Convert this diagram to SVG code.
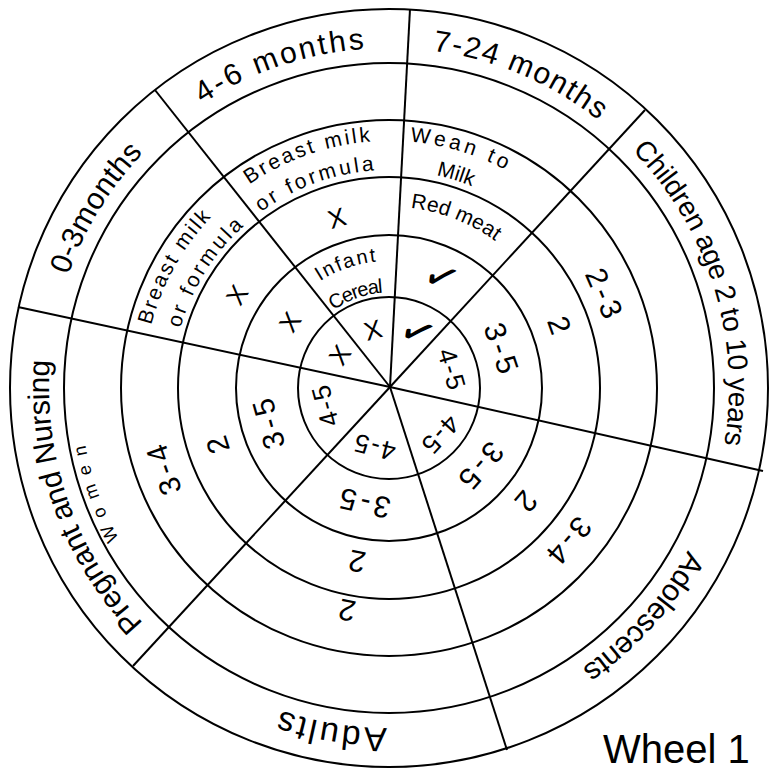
<svg xmlns="http://www.w3.org/2000/svg" width="770" height="773" viewBox="0 0 770 773">
<style>
.ln{fill:none;stroke:#000;stroke-width:2}
text{font-family:"Liberation Sans",Arial,sans-serif;fill:#000}
.lab{font-size:30px;text-anchor:middle}
.food{font-size:21px;text-anchor:middle}
.mk{font-size:26px;text-anchor:middle;dominant-baseline:central}
.ck{font-family:"DejaVu Sans",sans-serif;font-size:42px;text-anchor:middle;dominant-baseline:central}
.n3{font-size:30px;text-anchor:middle;dominant-baseline:central;letter-spacing:4px}
.n6{font-size:26px;text-anchor:middle;dominant-baseline:central;letter-spacing:2px}
.title{font-size:40px}
</style>
<defs>
<path id="r340" d="M708.50,504.29 A340,340 0 1 1 69.50,271.71 A340,340 0 1 1 708.50,504.29"/>
<path id="r308" d="M678.42,493.34 A308,308 0 1 1 99.58,282.66 A308,308 0 1 1 678.42,493.34"/>
<path id="r246" d="M620.16,472.14 A246,246 0 1 1 157.84,303.86 A246,246 0 1 1 620.16,472.14"/>
<path id="r217" d="M592.91,462.22 A217,217 0 1 1 185.09,313.78 A217,217 0 1 1 592.91,462.22"/>
<path id="r180" d="M558.14,449.56 A180,180 0 1 1 219.86,326.44 A180,180 0 1 1 558.14,449.56"/>
<path id="r127" d="M508.34,431.44 A127,127 0 1 1 269.66,344.56 A127,127 0 1 1 508.34,431.44"/>
<path id="r95" d="M478.27,420.49 A95,95 0 1 1 299.73,355.51 A95,95 0 1 1 478.27,420.49"/>
</defs>
<rect width="770" height="773" fill="#fff"/>

<g id="connectors">
<circle class="ln" cx="389" cy="388" r="379"/>
<circle class="ln" cx="389" cy="388" r="325"/>
<circle class="ln" cx="389" cy="388" r="268"/>
<circle class="ln" cx="389" cy="388" r="211"/>
<circle class="ln" cx="389" cy="388" r="153"/>
<circle class="ln" cx="389" cy="388" r="91"/>
<line class="ln" x1="390" y1="387" x2="18" y2="307"/>
<line class="ln" x1="390" y1="387" x2="155" y2="90"/>
<line class="ln" x1="390" y1="387" x2="410" y2="9"/>
<line class="ln" x1="390" y1="387" x2="645" y2="110"/>
<line class="ln" x1="390" y1="387" x2="763" y2="471"/>
<line class="ln" x1="390" y1="387" x2="507" y2="750"/>
<line class="ln" x1="390" y1="387" x2="133" y2="666"/>
</g>

<g id="sector-0-3-months">
<text class="lab"><textPath href="#r340" startOffset="1136.4" textLength="144">0-3months</textPath></text>
<text class="food"><textPath href="#r246" startOffset="814.9" textLength="125">Breast milk</textPath></text>
<text class="food"><textPath href="#r217" startOffset="729.1" textLength="122">or formula</textPath></text>
<text class="mk" x="237" y="295" transform="rotate(-58.5 237 295)">X</text>
<text class="mk" x="290" y="322" transform="rotate(-56.3 290 322)">X</text>
<text class="mk" x="340" y="355" transform="rotate(-56 340 355)">X</text>
</g>

<g id="sector-4-6-months">
<text class="lab"><textPath href="#r340" startOffset="1371.9" textLength="173">4-6 months</textPath></text>
<text class="food"><textPath href="#r246" startOffset="992.7" textLength="130">Breast milk</textPath></text>
<text class="food"><textPath href="#r217" startOffset="873.4" textLength="122">or formula</textPath></text>
<text class="mk" x="337" y="218" transform="rotate(-17 337 218)">X</text>
<text style="font-size:20px;text-anchor:middle"><textPath href="#r127" startOffset="511.1" textLength="60">Infant</textPath></text>
<text style="font-size:20px;text-anchor:middle"><textPath href="#r95" startOffset="382.7" textLength="53">Cereal</textPath></text>
<text class="mk" x="373" y="330" transform="rotate(-15.4 373 330)">X</text>
</g>

<g id="sector-7-24-months">
<text class="lab"><textPath href="#r340" startOffset="1617.6" textLength="182">7-24 months</textPath></text>
<text class="food"><textPath href="#r246" startOffset="1147.2" textLength="100">Wean to</textPath></text>
<text class="food"><textPath href="#r217" startOffset="1015.4">Milk</textPath></text>
<text class="food"><textPath href="#r180" startOffset="856.4" textLength="92">Red meat</textPath></text>
<text class="ck" x="442" y="277" transform="rotate(25.5 442 277)">✓</text>
<text class="ck" x="418" y="332" transform="rotate(27.4 418 332)">✓</text>
</g>

<g id="sector-children">
<text style="font-size:28px;text-anchor:middle"><textPath href="#r340" startOffset="1913.7" textLength="320">Children age 2 to 10 years</textPath></text>
<text class="n3" x="605" y="295" transform="rotate(66.7 605 295)">2-3</text>
<text class="n3" x="560" y="327" transform="rotate(70.4 560 327)">2</text>
<text class="n3" x="502" y="350" transform="rotate(71.4 502 350)">3-5</text>
<text class="n6" x="452" y="370" transform="rotate(74 452 370)">4-5</text>
</g>

<g id="sector-adolescents">
<text class="lab"><textPath href="#r340" startOffset="130.5" textLength="160">Adolescents</textPath></text>
<text class="n3" x="568" y="542" transform="rotate(130.7 568 542)">3-4</text>
<text class="n3" x="525" y="503" transform="rotate(130.2 525 503)">2</text>
<text class="n3" x="480" y="467" transform="rotate(131 480 467)">3-5</text>
<text class="n6" x="440" y="435" transform="rotate(132.7 440 435)">4-5</text>
</g>

<g id="sector-adults">
<text style="font-size:34px;text-anchor:middle"><textPath href="#r340" startOffset="471.2" textLength="108">Adults</textPath></text>
<text class="n3" x="345" y="610" transform="rotate(191.2 345 610)">2</text>
<text class="n3" x="355" y="561" transform="rotate(190.9 355 561)">2</text>
<text class="n3" x="363" y="503" transform="rotate(192.7 363 503)">3-5</text>
<text class="n6" x="374" y="447" transform="rotate(194.3 374 447)">4-5</text>
</g>

<g id="sector-pregnant-nursing">
<text class="lab"><textPath href="#r340" startOffset="833.1" textLength="287">Pregnant and Nursing</textPath></text>
<text style="font-size:18px;text-anchor:middle"><textPath href="#r308" startOffset="756.3" textLength="100">Women</textPath></text>
<text class="n3" x="163" y="468" transform="rotate(250.5 163 468)">3-4</text>
<text class="n3" x="217" y="443" transform="rotate(252.3 217 443)">2</text>
<text class="n3" x="268" y="422" transform="rotate(254.3 268 422)">3-5</text>
<text class="n6" x="325" y="405" transform="rotate(255 325 405)">4-5</text>
</g>

<g id="title">
<text class="title" x="603" y="763">Wheel 1</text>
</g>
</svg>
